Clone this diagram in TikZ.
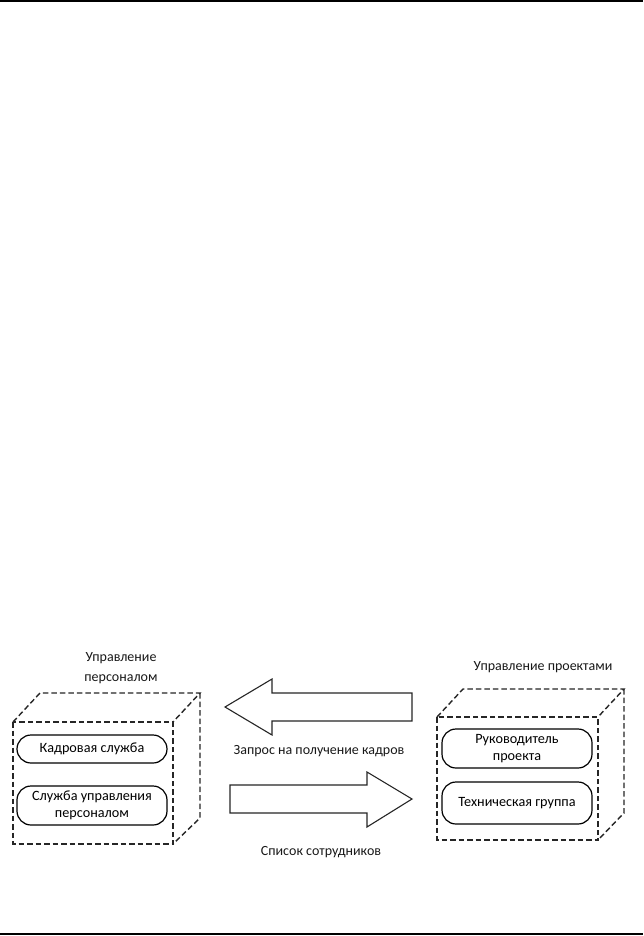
\documentclass[tikz,border=0pt]{standalone}
\usepackage{fontspec}
\setmainfont{Carlito}
\begin{document}
\begin{tikzpicture}[x=1pt,y=-1pt,
  cubeline/.style={draw=black!85, line width=1.4pt, dash pattern=on 5.5pt off 3pt},
  pill/.style={draw=black, line width=1.2pt, rounded corners=14pt, minimum width=150pt, align=center, font=\fontsize{14.2}{16.5}\selectfont},
  bigarrow/.style={draw=black!85, line width=1.1pt, fill=white},
  lbl/.style={font=\fontsize{14}{19.5}\selectfont, align=center, text=black!90}]
\useasboundingbox (0,0) rectangle (643,936);
\fill[white] (0,0) rectangle (643,936);
% page rules
\draw[line width=2pt] (0,1.5) -- (643,1.5);
\draw[line width=2pt] (0,934) -- (643,934);

% left cube
\draw[cubeline] (13,722) rectangle (173,844);
\draw[cubeline] (13,722) -- (40,693) -- (200,693) -- (173,722);
\draw[cubeline] (200,693) -- (200,818) -- (173,844);
\node[lbl] (lt) at (121,668) {Управление\\персоналом};
\node[pill, minimum height=28pt] (k) at (92,749) {Кадровая служба};
\node[pill, minimum height=39pt, inner sep=1pt] (s) at (92,805.5) {Служба управления\\персоналом};

% right cube
\draw[cubeline] (437,717) rectangle (598,840);
\draw[cubeline] (437,717) -- (463,689) -- (624,689) -- (598,717);
\draw[cubeline] (624,689) -- (624,813) -- (598,840);
\node[lbl] (rt) at (543,667) {Управление проектами};
\node[pill, minimum height=39pt, inner sep=1pt] (r) at (517,748.5) {Руководитель\\проекта};
\node[pill, minimum height=42pt] (t) at (517,803) {Техническая группа};

% arrows
\draw[bigarrow] (225,707) -- (272,679) -- (272,693) -- (412,693) -- (412,721) -- (272,721) -- (272,735) -- cycle;
\draw[bigarrow] (412,799) -- (367,772) -- (367,785) -- (230,785) -- (230,813) -- (367,813) -- (367,827) -- cycle;
\node[lbl] (q) at (319,751) {Запрос на получение кадров};
\node[lbl] (l) at (321,852) {Список сотрудников};
\end{tikzpicture}
\end{document}
